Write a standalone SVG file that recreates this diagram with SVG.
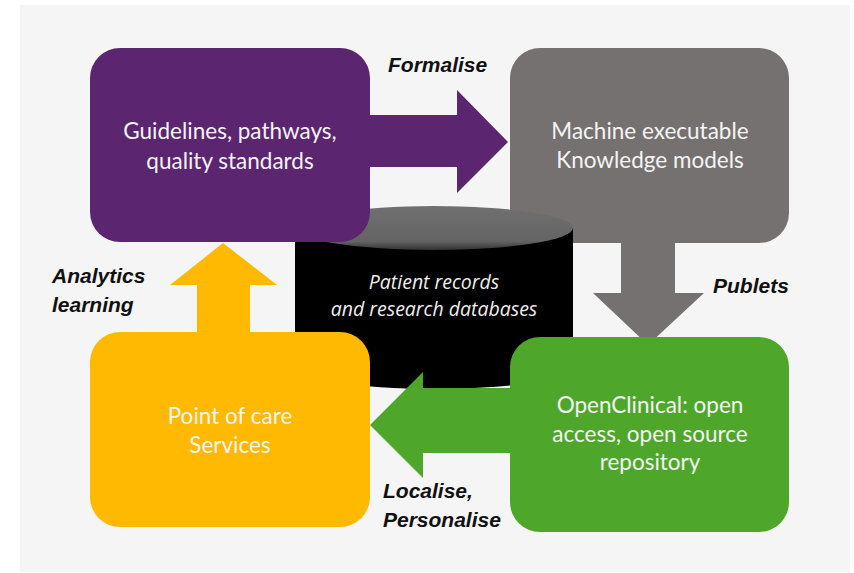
<svg xmlns="http://www.w3.org/2000/svg" width="854" height="573" viewBox="0 0 854 573">
<defs>
<linearGradient id="top" x1="0" y1="0" x2="0" y2="1">
<stop offset="0" stop-color="#707070"/>
<stop offset="0.8" stop-color="#646464"/>
<stop offset="1" stop-color="#333333"/>
</linearGradient>
<style>
.box{stroke:none}
.bt{font-family:Lato,"Open Sans",sans-serif;font-size:22.5px;fill:#f4f4f4;text-anchor:middle}
.lab{font-family:"Liberation Sans",Arial,sans-serif;font-size:21px;font-weight:bold;font-style:italic;fill:#111}
.cyl{font-family:"Open Sans","Liberation Sans",sans-serif;font-size:19.5px;font-style:italic;fill:#eeeeee;text-anchor:middle}
</style>
</defs>
<rect x="0" y="0" width="854" height="573" fill="#ffffff"/>
<rect x="20" y="5" width="830" height="567" fill="#f5f5f5"/>

<g id="node-knowledge">
<rect class="box" x="510" y="48" width="279" height="195" rx="30" fill="#767171"/>
<text class="bt" x="650" y="139">Machine executable</text>
<text class="bt" x="650" y="168">Knowledge models</text>
</g>

<g id="node-database">
<path d="M295,228 L295,367 A139,22 0 0 0 573,367 L573,228 Z" fill="#000000"/>
<ellipse cx="434" cy="228" rx="139" ry="22" fill="url(#top)"/>
<text class="cyl" x="434" y="289">Patient records</text>
<text class="cyl" x="434" y="316">and research databases</text>
</g>

<g id="connectors">
<polygon id="formalise-arrow" points="360,115 457,115 457,90 508,142 457,193 457,167 360,167" fill="#5b2570"/>
<polygon id="publets-arrow" points="621,235 675,235 675,293 704,293 648,345 593,293 621,293" fill="#767171"/>
<polygon id="localise-arrow" points="520,388 423,388 423,372 370,425 423,478 423,453 520,453" fill="#4ea72a"/>
<polygon id="analytics-arrow" points="197,340 197,285 170,285 223,243 277,285 250,285 250,340" fill="#ffb900"/>
<text class="lab" x="388" y="72">Formalise</text>
<text class="lab" x="713" y="293">Publets</text>
<text class="lab" x="52" y="283">Analytics</text>
<text class="lab" x="52" y="312">learning</text>
<text class="lab" x="383" y="498">Localise,</text>
<text class="lab" x="383" y="527">Personalise</text>
</g>

<g id="node-guidelines">
<rect class="box" x="90" y="48" width="280" height="194" rx="30" fill="#5b2570"/>
<text class="bt" x="230" y="139">Guidelines, pathways,</text>
<text class="bt" x="230" y="169">quality standards</text>
</g>

<g id="node-poc">
<rect class="box" x="90" y="332" width="280" height="195" rx="30" fill="#ffb900"/>
<text class="bt" x="230" y="424">Point of care</text>
<text class="bt" x="230" y="453">Services</text>
</g>

<g id="node-openclinical">
<rect class="box" x="510" y="337" width="279" height="195" rx="30" fill="#4ea72a"/>
<text class="bt" x="650" y="413">OpenClinical: open</text>
<text class="bt" x="650" y="442">access, open source</text>
<text class="bt" x="650" y="470">repository</text>
</g>
</svg>
